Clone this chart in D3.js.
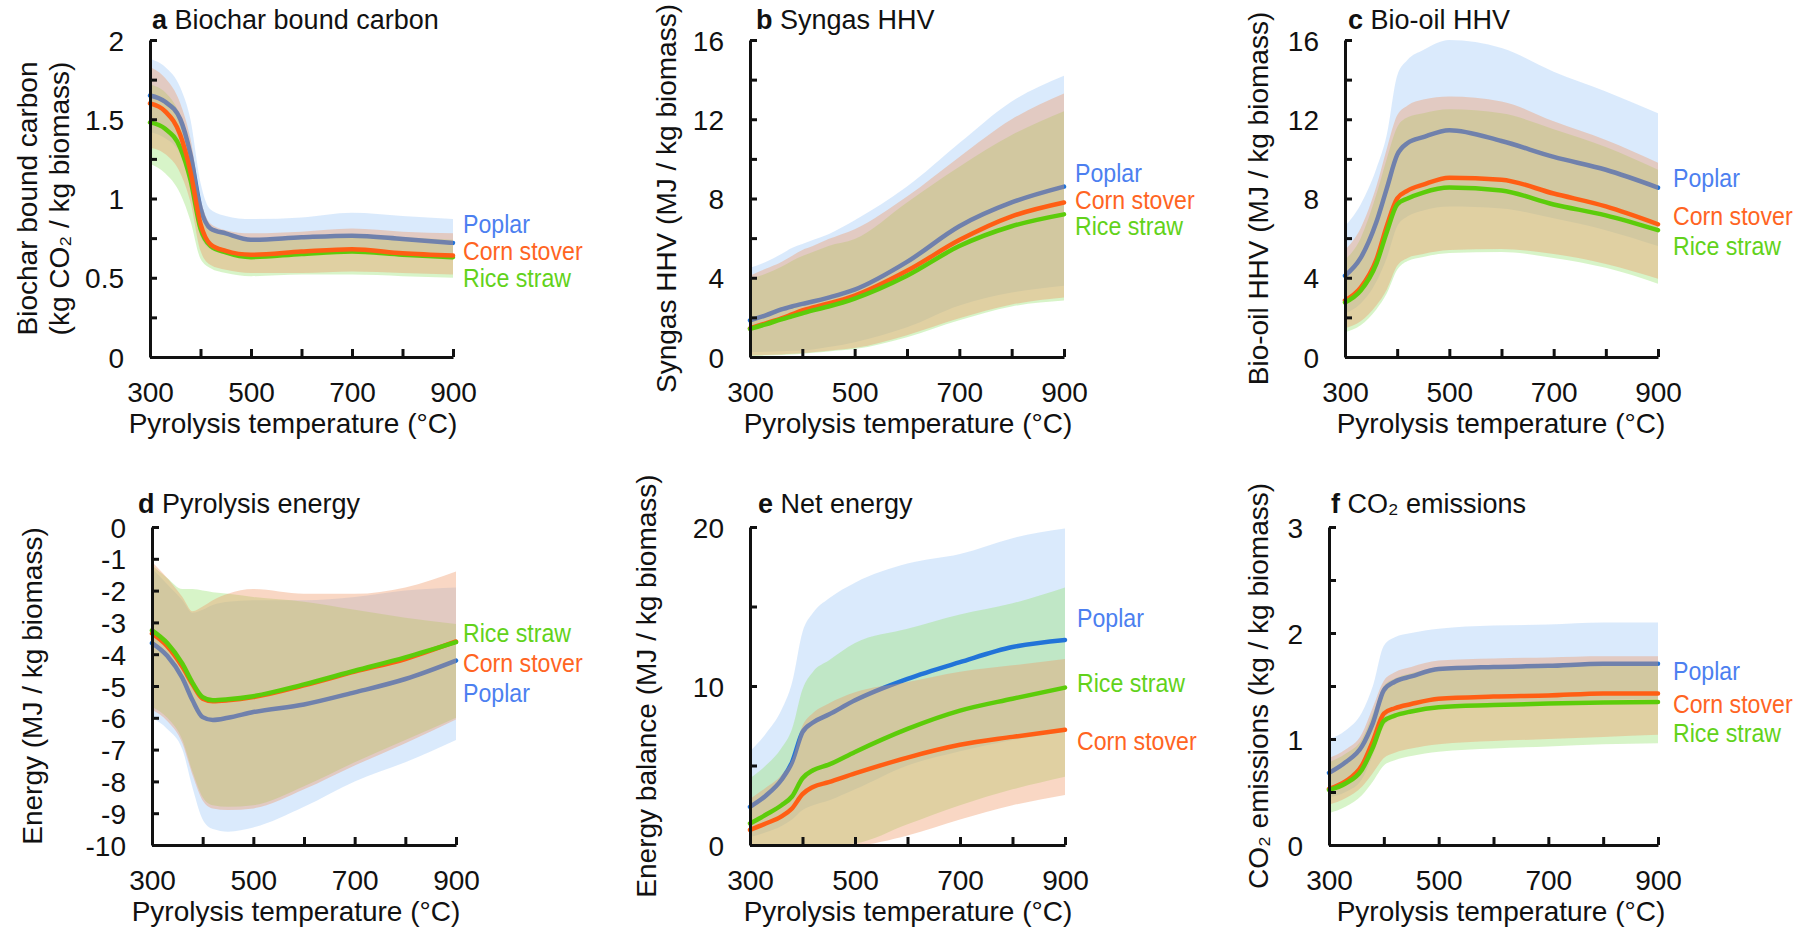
<!DOCTYPE html>
<html>
<head>
<meta charset="utf-8">
<script src="https://cdn.jsdelivr.net/npm/d3@7"></script>
<style>
  html, body { margin: 0; padding: 0; background: #fff; }
  svg { display: block; }
  text { font-family: "Liberation Sans", Arial, Helvetica, sans-serif; fill: #111; }
</style>
</head>
<body>
<svg id="chart" width="1810" height="930"></svg>
<script>
const temps = [300, 330, 360, 380, 400, 420, 450, 500, 600, 700, 800, 900];
const seriesNames = ['Poplar', 'Corn stover', 'Rice straw'];

// a Biochar bound carbon
const aPoplar   = [1.65, 1.61, 1.50, 1.28, 0.94, 0.81, 0.78, 0.74, 0.755, 0.765, 0.745, 0.72];
const aPoplarLo = [1.42, 1.38, 1.28, 1.08, 0.76, 0.68, 0.65, 0.63, 0.64, 0.66, 0.64, 0.61];
const aPoplarHi = [1.88, 1.83, 1.70, 1.50, 1.10, 0.93, 0.89, 0.87, 0.88, 0.91, 0.89, 0.87];
const aCorn     = [1.60, 1.55, 1.40, 1.17, 0.84, 0.71, 0.67, 0.645, 0.665, 0.68, 0.655, 0.64];
const aCornLo   = [1.32, 1.28, 1.16, 0.98, 0.67, 0.58, 0.55, 0.53, 0.53, 0.54, 0.53, 0.52];
const aCornHi   = [1.83, 1.76, 1.60, 1.38, 1.00, 0.84, 0.80, 0.78, 0.79, 0.81, 0.79, 0.78];
const aRice     = [1.48, 1.44, 1.32, 1.12, 0.81, 0.70, 0.66, 0.63, 0.65, 0.665, 0.645, 0.63];
const aRiceLo   = [1.22, 1.16, 1.03, 0.86, 0.62, 0.56, 0.53, 0.51, 0.52, 0.52, 0.51, 0.50];
const aRiceHi   = [1.72, 1.67, 1.52, 1.30, 0.95, 0.81, 0.77, 0.74, 0.76, 0.77, 0.755, 0.74];

// b Syngas HHV
const bPoplar   = [1.85, 2.10, 2.40, 2.55, 2.68, 2.80, 3.00, 3.40, 4.80, 6.60, 7.80, 8.60];
const bPoplarLo = [0.25, 0.27, 0.29, 0.31, 0.33, 0.38, 0.50, 0.75, 1.50, 2.60, 3.25, 3.60];
const bPoplarHi = [4.50, 4.80, 5.20, 5.50, 5.70, 5.90, 6.20, 6.90, 8.60, 10.8, 12.9, 14.2];
const bCorn     = [1.45, 1.70, 1.95, 2.15, 2.35, 2.50, 2.70, 3.10, 4.35, 5.90, 7.10, 7.80];
const bCornLo   = [0.08, 0.10, 0.13, 0.16, 0.20, 0.24, 0.32, 0.45, 1.10, 1.95, 2.65, 3.00];
const bCornHi   = [4.10, 4.45, 4.80, 5.10, 5.40, 5.60, 5.95, 6.45, 8.10, 10.1, 12.0, 13.3];
const bRice     = [1.42, 1.65, 1.90, 2.05, 2.20, 2.35, 2.55, 2.95, 4.10, 5.60, 6.60, 7.20];
const bRiceLo   = [0.05, 0.07, 0.10, 0.13, 0.17, 0.21, 0.28, 0.40, 1.00, 1.85, 2.55, 2.85];
const bRiceHi   = [3.95, 4.20, 4.55, 4.85, 5.10, 5.30, 5.60, 5.95, 7.80, 9.60, 11.2, 12.4];

// c Bio-oil HHV
const cPoplar   = [4.10, 5.00, 6.80, 8.50, 10.2, 10.8, 11.1, 11.45, 10.9, 10.1, 9.45, 8.55];
const cPoplarLo = [2.20, 2.70, 3.80, 5.00, 6.60, 7.10, 7.40, 7.60, 7.50, 7.00, 6.40, 5.60];
const cPoplarHi = [6.60, 7.70, 9.50, 11.2, 14.2, 15.0, 15.5, 16.0, 15.6, 14.4, 13.4, 12.3];
const cCorn     = [2.85, 3.50, 4.90, 6.60, 8.00, 8.40, 8.70, 9.05, 8.95, 8.25, 7.60, 6.70];
const cCornLo   = [1.45, 1.80, 2.60, 3.40, 4.60, 5.00, 5.20, 5.40, 5.45, 5.20, 4.70, 3.95];
const cCornHi   = [5.40, 6.50, 8.60, 10.5, 12.2, 12.7, 13.0, 13.15, 12.9, 11.9, 10.95, 9.80];
const cRice     = [2.75, 3.35, 4.70, 6.30, 7.70, 8.00, 8.30, 8.55, 8.40, 7.70, 7.15, 6.40];
const cRiceLo   = [1.25, 1.60, 2.40, 3.20, 4.40, 4.85, 5.05, 5.25, 5.30, 5.00, 4.50, 3.70];
const cRiceHi   = [4.90, 6.00, 8.20, 10.0, 11.6, 12.1, 12.3, 12.5, 12.3, 11.5, 10.6, 9.45];

// d Pyrolysis energy
const dPoplar   = [-3.65, -4.05, -4.75, -5.45, -5.98, -6.07, -6.00, -5.82, -5.58, -5.20, -4.78, -4.20];
const dPoplarLo = [-6.00, -6.35, -7.00, -8.20, -9.20, -9.50, -9.58, -9.45, -8.80, -8.00, -7.40, -6.70];
const dPoplarHi = [-1.30, -1.80, -2.30, -2.70, -2.60, -2.45, -2.35, -2.30, -2.30, -2.20, -2.00, -1.90];
const dCorn     = [-3.35, -3.75, -4.40, -4.95, -5.40, -5.48, -5.45, -5.35, -4.98, -4.55, -4.15, -3.60];
const dCornLo   = [-5.75, -6.10, -6.80, -7.80, -8.60, -8.85, -8.90, -8.85, -8.25, -7.50, -6.80, -6.05];
const dCornHi   = [-1.10, -1.60, -2.20, -2.65, -2.50, -2.30, -2.10, -1.95, -2.10, -2.10, -1.90, -1.40];
const dRice     = [-3.25, -3.65, -4.30, -4.90, -5.35, -5.45, -5.42, -5.32, -4.95, -4.52, -4.10, -3.62];
const dRiceLo   = [-5.65, -6.00, -6.70, -7.70, -8.50, -8.75, -8.80, -8.75, -8.15, -7.40, -6.70, -6.00];
const dRiceHi   = [-1.20, -1.60, -1.95, -1.95, -2.00, -2.05, -2.10, -2.20, -2.35, -2.60, -2.85, -3.05];

// e Net energy
const ePoplar   = [2.40, 3.10, 4.10, 5.20, 7.10, 7.70, 8.20, 9.10, 10.45, 11.5, 12.45, 12.9];
const ePoplarLo = [0.50, 0.80, 1.20, 1.60, 2.20, 2.50, 2.80, 3.50, 5.00, 5.90, 6.60, 7.10];
const ePoplarHi = [5.90, 7.00, 8.50, 10.2, 13.4, 14.6, 15.5, 16.5, 17.7, 18.3, 19.3, 19.9];
const eCorn     = [0.95, 1.35, 1.80, 2.30, 3.20, 3.65, 3.95, 4.50, 5.50, 6.30, 6.80, 7.25];
const eCornLo   = [0, 0, 0, 0, 0, 0, 0, 0, 0.60, 1.60, 2.50, 3.15];
const eCornHi   = [2.90, 3.60, 4.40, 5.40, 7.50, 8.30, 8.90, 9.60, 10.25, 10.9, 11.3, 11.7];
const eRice     = [1.35, 1.90, 2.50, 3.05, 4.20, 4.70, 5.05, 5.85, 7.30, 8.45, 9.20, 9.90];
const eRiceLo   = [0, 0, 0, 0, 0, 0, 0, 0.10, 1.30, 2.50, 3.50, 4.30];
const eRiceHi   = [4.20, 5.00, 6.10, 7.30, 9.80, 10.9, 11.6, 12.7, 13.6, 14.5, 15.2, 16.2];

// f CO2 emissions
const fPoplar   = [0.68, 0.78, 0.93, 1.15, 1.46, 1.54, 1.59, 1.66, 1.68, 1.69, 1.71, 1.71];
const fPoplarLo = [0.45, 0.50, 0.62, 0.85, 1.12, 1.20, 1.25, 1.30, 1.33, 1.35, 1.37, 1.38];
const fPoplarHi = [1.00, 1.08, 1.25, 1.50, 1.88, 1.96, 2.00, 2.04, 2.07, 2.08, 2.10, 2.10];
const fCorn     = [0.53, 0.60, 0.75, 0.98, 1.24, 1.29, 1.33, 1.38, 1.40, 1.41, 1.43, 1.43];
const fCornLo   = [0.38, 0.44, 0.55, 0.68, 0.82, 0.87, 0.91, 0.95, 0.98, 1.00, 1.02, 1.04];
const fCornHi   = [0.82, 0.90, 1.05, 1.30, 1.55, 1.63, 1.68, 1.74, 1.76, 1.77, 1.78, 1.78];
const fRice     = [0.52, 0.58, 0.71, 0.92, 1.17, 1.22, 1.26, 1.30, 1.32, 1.335, 1.345, 1.35];
const fRiceLo   = [0.30, 0.36, 0.47, 0.60, 0.75, 0.80, 0.84, 0.88, 0.91, 0.93, 0.95, 0.96];
const fRiceHi   = [0.78, 0.86, 1.00, 1.24, 1.50, 1.57, 1.62, 1.67, 1.69, 1.70, 1.71, 1.71];

const xTickValues = [300, 400, 500, 600, 700, 800, 900];
const xTickLabels = [300, 500, 700, 900];

// colours: 0 poplar, 1 corn stover, 2 rice straw
const lineColors  = ['#2274d8', '#ff5e14', '#5ccc0a'];
const labelColors = ['#4c7ff0', '#ff6422', '#62d21a'];
const bandColors  = ['rgba(140,190,245,0.32)', 'rgba(240,150,100,0.38)', 'rgba(150,225,110,0.38)'];

const panels = [
  { letter: 'a', title: 'Biochar bound carbon', x0: 150, x1: 453, y0: 40, y1: 357,
    domain: [0, 2], major: [0, 0.5, 1, 1.5, 2], minorStep: 0.25,
    ylabel: ['Biochar bound carbon', '(kg CO\u2082 / kg biomass)'], ylabelX: [37, 69],
    titleX: 152, titleY: 29, xtitleX: 293,
    data: [[aPoplar, aPoplarLo, aPoplarHi], [aCorn, aCornLo, aCornHi], [aRice, aRiceLo, aRiceHi]],
    topLine: 1, legendX: 463, legendY: [233, 260, 287] },
  { letter: 'b', title: 'Syngas HHV', x0: 750, x1: 1064, y0: 40, y1: 357,
    domain: [0, 16], major: [0, 4, 8, 12, 16], minorStep: 2,
    ylabel: ['Syngas HHV (MJ / kg biomass)'], ylabelX: [676],
    titleX: 756, titleY: 29, xtitleX: 908,
    data: [[bPoplar, bPoplarLo, bPoplarHi], [bCorn, bCornLo, bCornHi], [bRice, bRiceLo, bRiceHi]],
    topLine: 2, legendX: 1075, legendY: [182, 209, 235] },
  { letter: 'c', title: 'Bio-oil HHV', x0: 1345, x1: 1658, y0: 40, y1: 357,
    domain: [0, 16], major: [0, 4, 8, 12, 16], minorStep: 2,
    ylabel: ['Bio-oil HHV (MJ / kg biomass)'], ylabelX: [1268],
    titleX: 1348, titleY: 29, xtitleX: 1501,
    data: [[cPoplar, cPoplarLo, cPoplarHi], [cCorn, cCornLo, cCornHi], [cRice, cRiceLo, cRiceHi]],
    topLine: 2, legendX: 1673, legendY: [187, 225, 255] },
  { letter: 'd', title: 'Pyrolysis energy', x0: 152, x1: 456, y0: 527, y1: 845,
    domain: [-10, 0], major: d3.range(-10, 1, 1), minorStep: 1,
    ylabel: ['Energy (MJ / kg biomass)'], ylabelX: [42],
    titleX: 138, titleY: 513, xtitleX: 296,
    data: [[dPoplar, dPoplarLo, dPoplarHi], [dCorn, dCornLo, dCornHi], [dRice, dRiceLo, dRiceHi]],
    topLine: 2, legendX: 463, legendY: [702, 672, 642] },
  { letter: 'e', title: 'Net energy', x0: 750, x1: 1065, y0: 527, y1: 845,
    domain: [0, 20], major: [0, 10, 20], minorStep: 5,
    ylabel: ['Energy balance (MJ / kg biomass)'], ylabelX: [656],
    titleX: 758, titleY: 513, xtitleX: 908,
    data: [[ePoplar, ePoplarLo, ePoplarHi], [eCorn, eCornLo, eCornHi], [eRice, eRiceLo, eRiceHi]],
    topLine: 2, legendX: 1077, legendY: [627, 750, 692] },
  { letter: 'f', title: 'CO\u2082 emissions', x0: 1329, x1: 1658, y0: 527, y1: 845,
    domain: [0, 3], major: [0, 1, 2, 3], minorStep: 0.5,
    ylabel: ['CO\u2082 emissions (kg / kg biomass)'], ylabelX: [1268],
    titleX: 1331, titleY: 513, xtitleX: 1501,
    data: [[fPoplar, fPoplarLo, fPoplarHi], [fCorn, fCornLo, fCornHi], [fRice, fRiceLo, fRiceHi]],
    topLine: 2, legendX: 1673, legendY: [680, 713, 742] }
];

const svg = d3.select('#chart');
const FONT = 28;

function drawPanel(p) {
  const g = svg.append('g').attr('class', 'panel panel-' + p.letter);
  const x = d3.scaleLinear().domain([300, 900]).range([p.x0, p.x1]);
  const y = d3.scaleLinear().domain(p.domain).range([p.y1, p.y0]);

  const rows = s => temps.map((t, i) => ({ t, m: p.data[s][0][i], lo: p.data[s][1][i], hi: p.data[s][2][i] }));

  const area = d3.area()
    .x(d => x(d.t)).y0(d => y(d.lo)).y1(d => y(d.hi))
    .curve(d3.curveMonotoneX);
  const line = d3.line()
    .x(d => x(d.t)).y(d => y(d.m))
    .curve(d3.curveMonotoneX);

  const drawBand = s => g.append('path').datum(rows(s))
    .attr('d', area).attr('fill', bandColors[s]).attr('stroke', 'none');
  const drawLine = s => g.append('path').datum(rows(s))
    .attr('d', line).attr('fill', 'none').attr('stroke', lineColors[s])
    .attr('stroke-width', 4.5).attr('stroke-linecap', 'round').attr('stroke-linejoin', 'round');

  // the corn stover band sits over the poplar line, which is why that line looks greyish
  drawBand(0);
  drawBand(2);
  drawLine(0);
  drawBand(1);
  if (p.topLine === 1) { drawLine(2); drawLine(1); } else { drawLine(1); drawLine(2); }

  // axes, ticks point inwards
  const minor = d3.range(p.domain[0], p.domain[1] + 1e-9, p.minorStep)
    .filter(v => !p.major.some(m => Math.abs(m - v) < 1e-9));

  const yAxis = g.append('g').attr('transform', `translate(${p.x0},0)`)
    .call(d3.axisLeft(y).tickValues(p.major).tickSizeInner(-7).tickSizeOuter(0).tickPadding(26).tickFormat(d => String(d)));
  const yMinor = g.append('g').attr('transform', `translate(${p.x0},0)`)
    .call(d3.axisLeft(y).tickValues(minor).tickSizeInner(-7).tickSizeOuter(0).tickFormat(''));
  yMinor.select('.domain').remove();

  const xAxis = g.append('g').attr('transform', `translate(0,${p.y1})`)
    .call(d3.axisBottom(x).tickValues(xTickValues).tickSizeInner(-8).tickSizeOuter(0).tickPadding(25)
      .tickFormat(d => xTickLabels.includes(d) ? String(d) : ''));

  [yAxis, yMinor, xAxis].forEach(a => {
    a.attr('font-size', FONT).attr('font-family', null);
    a.selectAll('.domain, .tick line').attr('stroke', '#111').attr('stroke-width', 3);
    a.selectAll('text').attr('fill', '#111');
  });
  yAxis.selectAll('text').attr('dy', '0.36em');

  // panel title
  const title = g.append('text').attr('x', p.titleX).attr('y', p.titleY).attr('font-size', 27);
  title.append('tspan').attr('font-weight', 'bold').text(p.letter);
  title.append('tspan').text(' ' + p.title);

  // x title
  g.append('text').attr('x', p.xtitleX).attr('y', p.y1 + 76)
    .attr('text-anchor', 'middle').attr('font-size', FONT)
    .text('Pyrolysis temperature (\u00B0C)');

  // y title
  const cy = (p.y0 + p.y1) / 2;
  p.ylabel.forEach((txt, i) => {
    g.append('text')
      .attr('transform', `translate(${p.ylabelX[i]},${cy}) rotate(-90)`)
      .attr('text-anchor', 'middle').attr('font-size', FONT)
      .text(txt);
  });

  // series labels at the right end of the lines (narrow lettering)
  seriesNames.forEach((name, s) => {
    g.append('text')
      .attr('transform', `translate(${p.legendX},${p.legendY[s]}) scale(0.89,1)`)
      .attr('font-size', 26)
      .style('fill', labelColors[s])
      .text(name);
  });
}

panels.forEach(drawPanel);
</script>
</body>
</html>
